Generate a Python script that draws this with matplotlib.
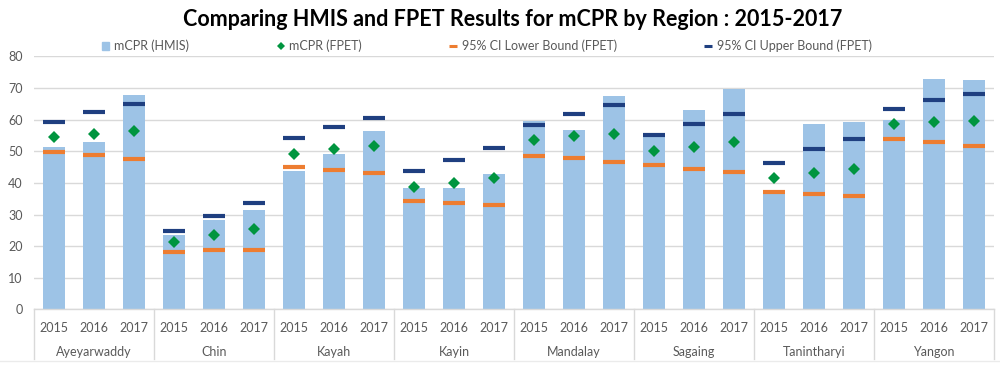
import numpy as np
import matplotlib
matplotlib.use("Agg")
import matplotlib.pyplot as plt
import matplotlib.transforms as mtransforms
from matplotlib.lines import Line2D
from matplotlib.patches import Patch

plt.rcParams['font.family'] = ['Lato', 'DejaVu Sans']

# data
regions = ['Ayeyarwaddy', 'Chin', 'Kayah', 'Kayin', 'Mandalay', 'Sagaing', 'Tanintharyi', 'Yangon']
years = ['2015', '2016', '2017']

hmis = [51.3, 53.0, 67.9,
        23.4, 28.3, 31.4,
        43.8, 49.2, 56.5,
        38.5, 38.5, 42.9,
        59.6, 56.8, 67.5,
        54.6, 63.0, 69.6,
        37.2, 58.8, 59.2,
        59.8, 72.8, 72.5]
fpet = [54.5, 55.6, 56.3,
        21.3, 23.6, 25.6,
        49.3, 50.8, 51.8,
        38.8, 40.1, 41.6,
        53.6, 54.8, 55.5,
        50.2, 51.5, 52.8,
        41.6, 43.2, 44.3,
        58.6, 59.4, 59.7]
ci_lower = [49.9, 48.8, 47.5,
            18.2, 18.9, 18.9,
            45.1, 44.1, 43.1,
            34.4, 33.8, 33.0,
            48.5, 47.8, 46.5,
            45.6, 44.4, 43.5,
            37.3, 36.5, 35.9,
            54.0, 53.0, 51.7]
ci_upper = [59.2, 62.6, 64.9,
            24.8, 29.7, 33.8,
            54.3, 57.8, 60.5,
            43.8, 47.2, 51.0,
            58.2, 61.7, 64.7,
            55.2, 58.5, 61.7,
            46.4, 50.6, 54.0,
            63.4, 66.1, 68.2]

bar_color = '#9DC3E6'
green = '#00953F'
orange = '#ED7D31'
navy = '#1F3F80'
text_gray = '#595959'
grid_gray = '#D9D9D9'

fig = plt.figure(figsize=(10, 3.66), dpi=100)
ax = fig.add_axes([0.034, 0.1544, 0.96, 0.6913])

x = np.arange(len(hmis))
ax.bar(x, hmis, width=0.55, color=bar_color, zorder=2)
ax.plot(x, ci_lower, linestyle='none', marker='_', markersize=15.8,
        markeredgewidth=3.0, color=orange, zorder=3)
ax.plot(x, ci_upper, linestyle='none', marker='_', markersize=15.8,
        markeredgewidth=3.0, color=navy, zorder=3)
ax.plot(x, fpet, linestyle='none', marker='D', markersize=6.4,
        color=green, markeredgewidth=0, zorder=4)

ax.set_xlim(-0.5, len(hmis) - 0.5)
ax.set_ylim(0, 80)
ax.set_yticks(np.arange(0, 81, 10))
ax.yaxis.grid(True, color=grid_gray, linewidth=1.0, zorder=0)
ax.set_axisbelow(True)
for s in ['top', 'right', 'left']:
    ax.spines[s].set_visible(False)
ax.spines['bottom'].set_color(grid_gray)
ax.spines['bottom'].set_linewidth(1.0)
ax.tick_params(axis='y', length=0, pad=8, labelsize=9, labelcolor=text_gray)

ax.set_xticks(x)
ax.set_xticklabels(years * len(regions))
ax.tick_params(axis='x', length=0, pad=9, labelsize=9, labelcolor=text_gray)

# two-level category axis: region names and separators
trans = mtransforms.blended_transform_factory(ax.transData, ax.transAxes)
ax_h = 0.6913 * 366
for i, r in enumerate(regions):
    ax.text(3 * i + 1, -(352 - 309.5) / ax_h, r, transform=trans,
            ha='center', va='center', fontsize=9, color=text_gray)
for b in np.arange(-0.5, len(hmis), 3):
    ax.add_line(Line2D([b, b], [0, -(359 - 309.5) / ax_h], transform=trans,
                       color=grid_gray, linewidth=1.0, clip_on=False))
fig.add_artist(Line2D([0, 1], [1 - 360.5 / 366] * 2, color='#EBEBEB', linewidth=1.0))

fig.text(0.513, 1 - 19 / 366, 'Comparing HMIS and FPET Results for mCPR by Region : 2015-2017',
         ha='center', va='center', fontsize=15.5, fontweight='bold', color='black')

handles = [Patch(color=bar_color),
           Line2D([], [], linestyle='none', marker='D', markersize=4.5, color=green, markeredgewidth=0),
           Line2D([], [], linestyle='none', marker='_', markersize=6, markeredgewidth=2.2, color=orange),
           Line2D([], [], linestyle='none', marker='_', markersize=6, markeredgewidth=2.2, color=navy)]
labels = ['mCPR (HMIS)', 'mCPR (FPET)', '95% CI Lower Bound (FPET)', '95% CI Upper Bound (FPET)']
fig.legend(handles, labels, loc='center', bbox_to_anchor=(0.487, 1 - 46 / 366), ncol=4,
           frameon=False, fontsize=9, labelcolor=text_gray, handlelength=0.6,
           handleheight=0.6, handletextpad=0.4, columnspacing=7.0)

fig.savefig('out.png', dpi=100)
